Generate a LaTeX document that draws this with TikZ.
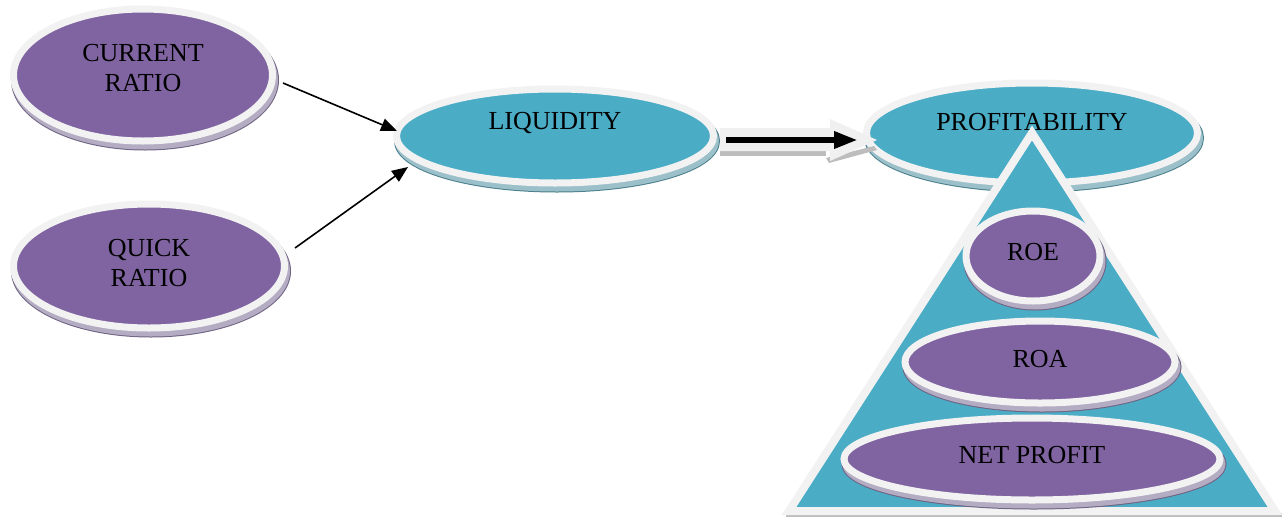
\documentclass[tikz,border=0pt]{standalone}
\usepackage{fontspec}
\setmainfont{Liberation Serif}
\usetikzlibrary{shapes.geometric,arrows.meta,shadows}
\definecolor{discpurple}{HTML}{8064A2}
\definecolor{discteal}{HTML}{4BACC6}
\definecolor{rimgray}{HTML}{F2F2F2}
\definecolor{bevelP}{HTML}{B4ACC2}
\definecolor{bevelPdark}{HTML}{6E6282}
\definecolor{bevelT}{HTML}{9CC0CA}
\definecolor{bevelTdark}{HTML}{4A7F8C}
\definecolor{arrowgray}{HTML}{F0F0F0}
\definecolor{stripgray}{HTML}{BDBDBD}
\tikzset{
  disc/.style={ellipse, inner sep=0pt, draw=rimgray, line width=7pt},
  pdisc/.style={disc, fill=discpurple,
    general shadow={shadow xshift=2pt, shadow yshift=-5pt, draw=bevelPdark, line width=9pt},
    general shadow={shadow xshift=2pt, shadow yshift=-5pt, fill=bevelP, draw=bevelP, line width=7pt}},
  tdisc/.style={disc, fill=discteal,
    general shadow={shadow xshift=2pt, shadow yshift=-5pt, draw=bevelTdark, line width=9pt},
    general shadow={shadow xshift=2pt, shadow yshift=-5pt, fill=bevelT, draw=bevelT, line width=7pt}},
  lbl/.style={font=\fontsize{26}{30}\selectfont, align=center, inner sep=0pt, text=black},
  thinarrow/.style={line width=1.6pt, -{Triangle[length=16pt,width=13pt]}},
}
\begin{document}
\begin{tikzpicture}[x=1pt,y=-1pt]
\useasboundingbox (0,0) rectangle (1284,517);

% left discs
\node[pdisc, minimum width=259pt, minimum height=132pt] (cr) at (143,75) {};
\node[lbl] (crt) at (143,68) {CURRENT\\RATIO};
\node[pdisc, minimum width=271pt, minimum height=124pt] (qr) at (149,266) {};
\node[lbl] (qrt) at (149,263) {QUICK\\RATIO};

% liquidity
\node[tdisc, minimum width=317pt, minimum height=94pt] (liq) at (555,136) {};
\node[lbl] (liqt) at (555,123) {LIQUIDITY};

% thin arrows
\coordinate (a1s) at (283,83);
\coordinate (a1e) at (397,131);
\coordinate (a2s) at (295,248);
\coordinate (a2e) at (408,167);
\draw[thinarrow] (a1s) -- (a1e);
\draw[thinarrow] (a2s) -- (a2e);

% profitability
\node[tdisc, minimum width=331pt, minimum height=100pt] (prof) at (1032,133) {};

% big block arrow
\coordinate (bs) at (726,140);
\coordinate (be) at (858,140);
\fill[stripgray] (720,151) rectangle (826,156);
\fill[stripgray] (826,158) -- (874,146) -- (877,150) -- (829,163) -- cycle;
\fill[arrowgray] (720,128) -- (830,128) -- (830,119) -- (877,140) -- (830,161) -- (830,151) -- (720,151) -- cycle;
\draw[line width=6pt, -{Triangle[length=24pt,width=16pt]}] (bs) -- (be);

% pyramid
\fill[stripgray] (786,513) rectangle (1282,517);
\draw[draw=rimgray, line width=8pt, fill=discteal, line join=miter] (1032,133) -- (1275,511) -- (789,511) -- cycle;
\node[lbl] (proft) at (1032,122) {PROFITABILITY};

\node[pdisc, minimum width=134pt, minimum height=90pt] (roe) at (1033,256) {};
\node[lbl] (roet) at (1033,252) {ROE};
\node[pdisc, minimum width=270pt, minimum height=82pt] (roa) at (1040,362) {};
\node[lbl] (roat) at (1040,359) {ROA};
\node[pdisc, minimum width=376pt, minimum height=82pt] (np) at (1032,459) {};
\node[lbl] (npt) at (1032,455) {NET PROFIT};
\end{tikzpicture}
\end{document}
